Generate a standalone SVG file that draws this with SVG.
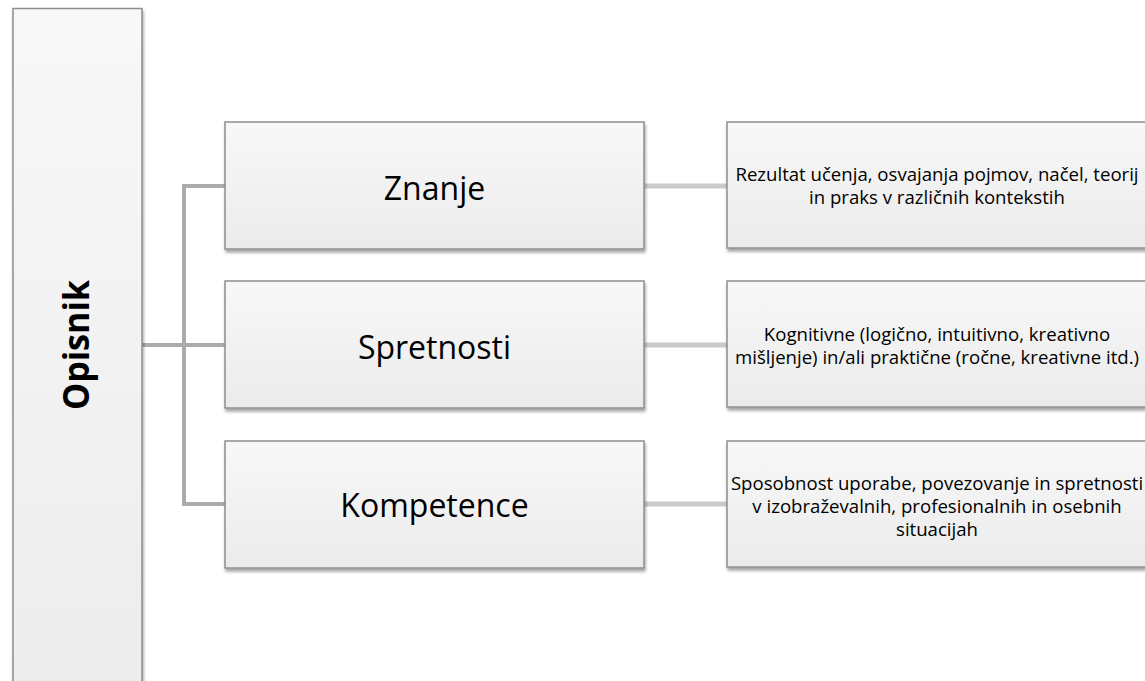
<svg xmlns="http://www.w3.org/2000/svg" width="1145" height="681" viewBox="0 0 1145 681">
  <style>
    .box { stroke: #8e8e8e; stroke-width: 1.5; filter: url(#shadow); }
    .mid { fill: url(#gradMid); }
    .label { font-family: "Open Sans", "Liberation Sans", sans-serif; font-size: 32px; fill: #000; text-anchor: middle; }
    .desc { font-family: "Open Sans", "Liberation Sans", sans-serif; font-size: 18.6px; fill: #000; text-anchor: middle; }
    .title { font-family: "Open Sans", "Liberation Sans", sans-serif; font-size: 36px; font-weight: bold; fill: #000; text-anchor: middle; }
    .trunk { stroke: #ababab; stroke-width: 4; fill: none; }
    .link { stroke: #cacaca; stroke-width: 5; fill: none; }
  </style>
  <defs>
    <linearGradient id="gradMid" x1="0" y1="0" x2="0" y2="1">
      <stop offset="0" stop-color="#f8f8f8"/>
      <stop offset="1" stop-color="#ebebeb"/>
    </linearGradient>
    <linearGradient id="gradTall" x1="0" y1="0" x2="0" y2="1">
      <stop offset="0" stop-color="#f8f8f8"/>
      <stop offset="1" stop-color="#ececec"/>
    </linearGradient>
    <filter id="shadow" x="-10%" y="-10%" width="130%" height="130%">
      <feDropShadow dx="1" dy="3" stdDeviation="1.8" flood-color="#000" flood-opacity="0.35"/>
    </filter>
  </defs>

  <g id="connectors">
    <path class="trunk" d="M142 345 H184 M184 186 V504 M182 186 H225 M184 345 H225 M182 504 H225"/>
    <line class="link" x1="644" y1="186" x2="727" y2="186"/>
    <line class="link" x1="644" y1="345" x2="727" y2="345"/>
    <line class="link" x1="644" y1="504" x2="727" y2="504"/>
  </g>

  <g id="opisnik">
    <rect class="box" x="13" y="8.5" width="129" height="700" fill="url(#gradTall)"/>
    <text class="title" transform="translate(89 345) rotate(-90)" textLength="130" lengthAdjust="spacingAndGlyphs">Opisnik</text>
  </g>

  <g id="znanje">
    <rect class="box mid" x="225" y="122" width="419" height="127"/>
    <text class="label" x="434.5" y="200">Znanje</text>
  </g>
  <g id="spretnosti">
    <rect class="box mid" x="225" y="281" width="419" height="127"/>
    <text class="label" x="434.5" y="359">Spretnosti</text>
  </g>
  <g id="kompetence">
    <rect class="box mid" x="225" y="441" width="419" height="127"/>
    <text class="label" x="434.5" y="517">Kompetence</text>
  </g>

  <g id="znanje-opis">
    <rect class="box mid" x="727" y="122" width="430" height="126"/>
    <text class="desc" x="937" y="181">Rezultat učenja, osvajanja pojmov, načel, teorij</text>
    <text class="desc" x="937" y="204">in praks v različnih kontekstih</text>
  </g>
  <g id="spretnosti-opis">
    <rect class="box mid" x="727" y="281" width="430" height="126"/>
    <text class="desc" x="937" y="341">Kognitivne (logično, intuitivno, kreativno</text>
    <text class="desc" x="937" y="364">mišljenje) in/ali praktične (ročne, kreativne itd.)</text>
  </g>
  <g id="kompetence-opis">
    <rect class="box mid" x="727" y="441" width="430" height="126"/>
    <text class="desc" x="937" y="490">Sposobnost uporabe, povezovanje in spretnosti</text>
    <text class="desc" x="937" y="513">v izobraževalnih, profesionalnih in osebnih</text>
    <text class="desc" x="937" y="536">situacijah</text>
  </g>
</svg>
